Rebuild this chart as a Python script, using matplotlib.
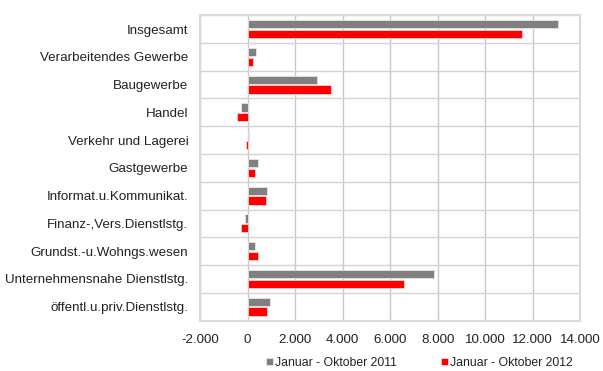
import numpy as np
import matplotlib
matplotlib.use('Agg')
import matplotlib.pyplot as plt
from matplotlib.ticker import FuncFormatter

plt.rcParams['font.family'] = ['Liberation Sans', 'DejaVu Sans']

branchen = ['Insgesamt', 'Verarbeitendes Gewerbe', 'Baugewerbe', 'Handel',
            'Verkehr und Lagerei', 'Gastgewerbe', 'Informat.u.Kommunikat.',
            'Finanz-,Vers.Dienstlstg.', 'Grundst.-u.Wohngs.wesen',
            'Unternehmensnahe Dienstlstg.', 'öffentl.u.priv.Dienstlstg.']
werte_2011 = [13060, 340, 2940, -270, 70, 450, 810, -130, 290, 7830, 940]
werte_2012 = [11550, 220, 3500, -460, -80, 290, 760, -290, 420, 6570, 800]
label_2011 = 'Januar - Oktober 2011'
label_2012 = 'Januar - Oktober 2012'

def de_format(x, pos):
    return '{:,.0f}'.format(x).replace(',', '.')

fig = plt.figure(figsize=(6.03, 3.71), dpi=100)
ax = fig.add_axes([0.332, 0.136, 0.630, 0.823])

y = np.arange(len(branchen))
h = 0.3
ax.barh(y - 0.175, werte_2011, height=h, color='#808080', edgecolor='#e6e6e6',
        linewidth=0.6, label=label_2011, zorder=3)
ax.barh(y + 0.175, werte_2012, height=h, color='#ff0000', edgecolor='#ffd0d0',
        linewidth=0.6, label=label_2012, zorder=3)

ax.set_xlim(-2000, 14000)
ax.set_xticks(np.arange(-2000, 14001, 2000))
ax.xaxis.set_major_formatter(FuncFormatter(de_format))
ax.set_ylim(len(branchen) - 0.5, -0.5)
ax.set_yticks(y)
ax.set_yticklabels(branchen)
ax.set_yticks(np.arange(-0.5, len(branchen), 1), minor=True)

ax.grid(axis='x', which='major', color='#c8c8c8', linewidth=1.0, zorder=0)
ax.grid(axis='y', which='minor', color='#d4d4d4', linewidth=1.0, zorder=0)
ax.tick_params(axis='both', which='both', length=0, labelsize=9.6, colors='#222222')
ax.tick_params(axis='y', pad=8.5)
ax.tick_params(axis='x', pad=9.5)
for s in ax.spines.values():
    s.set_color('#d9d9d9')
    s.set_linewidth(1.5)

fig.legend(loc='center', bbox_to_anchor=(0.695, 0.022), ncol=2, frameon=False,
           fontsize=8.8, handlelength=0.6, handleheight=0.6, handletextpad=0.15,
           columnspacing=3.6, labelcolor='#222222')

fig.savefig('out.png', dpi=100)
